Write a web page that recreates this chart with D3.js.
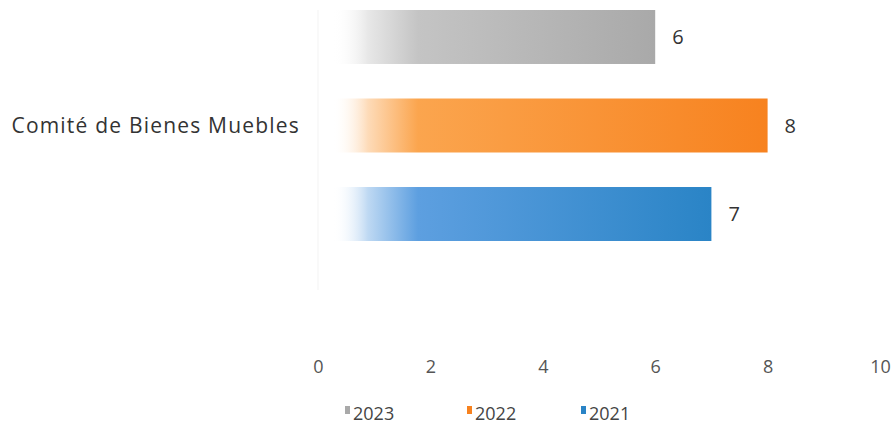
<!DOCTYPE html>
<html><head><meta charset="utf-8">
<script src="https://cdn.jsdelivr.net/npm/d3@7"></script>
<style>body{margin:0;background:#fff;}svg{display:block;font-family:"Open Sans",Lato,sans-serif;}</style>
</head><body>
<svg id="c" width="893" height="425"></svg>
<script>
const categories = ["Comité de Bienes Muebles"];
const series = ["2023", "2022", "2021"];
const values = [6, 8, 7];
const lightColors = ["#c4c4c4", "#fba54e", "#5d9fe0"];
const colors = ["#a9a9a9", "#f7821f", "#2a84c6"];
const ticks = [0, 2, 4, 6, 8, 10];

const svg = d3.select("#c");
const x = d3.scaleLinear().domain([0, 10]).range([318, 880]);
const y0 = d3.scaleBand().domain(categories).range([10, 241]);
const y1 = d3.scaleBand().domain(series).range([0, y0.bandwidth()]).paddingInner(0.39);

const defs = svg.append("defs");
series.forEach((s, i) => {
  const x0 = x(0), xe = x(values[i]);
  const g = defs.append("linearGradient").attr("id", "g" + i)
    .attr("gradientUnits", "userSpaceOnUse")
    .attr("x1", x0).attr("x2", xe).attr("y1", 0).attr("y2", 0);
  const off = v => (v - x0) / (xe - x0);
  g.append("stop").attr("offset", 0).attr("stop-color", "#fff").attr("stop-opacity", 0);
  g.append("stop").attr("offset", off(x0 + 15)).attr("stop-color", "#fff").attr("stop-opacity", 0);
  g.append("stop").attr("offset", off(x0 + 50)).attr("stop-color", lightColors[i]).attr("stop-opacity", 0.4);
  g.append("stop").attr("offset", off(x0 + 100)).attr("stop-color", lightColors[i]).attr("stop-opacity", 1);
  g.append("stop").attr("offset", 1).attr("stop-color", colors[i]).attr("stop-opacity", 1);
});

svg.append("line").attr("x1", x(0)).attr("x2", x(0)).attr("y1", 10).attr("y2", 290)
  .attr("stroke", "#f3f3f3").attr("stroke-width", 1);

const grp = svg.append("g").attr("transform", `translate(0,${y0(categories[0])})`);
grp.selectAll("rect").data(values).join("rect")
  .attr("x", x(0))
  .attr("y", (d, i) => y1(series[i]))
  .attr("width", d => x(d) - x(0))
  .attr("height", y1.bandwidth())
  .attr("fill", (d, i) => `url(#g${i})`);

grp.selectAll("text.v").data(values).join("text").attr("class", "v")
  .attr("x", d => x(d) + 17)
  .attr("y", (d, i) => y1(series[i]) + y1.bandwidth() / 2 + 7)
  .attr("font-size", 20).attr("fill", "#333")
  .text(d => d);

svg.append("text").attr("x", 300).attr("y", y0(categories[0]) + y0.bandwidth() / 2 + 7)
  .attr("text-anchor", "end").attr("font-size", 21).attr("letter-spacing", 1.2).attr("fill", "#333")
  .text(categories[0]);

const ax = d3.axisBottom(x).tickValues(ticks).tickSize(0).tickPadding(0);
const axg = svg.append("g").attr("transform", "translate(0,360)").call(ax);
axg.select(".domain").remove();
axg.selectAll("text").attr("font-size", 18).attr("fill", "#555").attr("font-family", "'Open Sans', sans-serif");

const legX = [345, 467, 581];
const leg = svg.append("g");
series.forEach((s, i) => {
  leg.append("rect").attr("x", legX[i]).attr("y", 406).attr("width", 5).attr("height", 8).attr("fill", colors[i]);
  leg.append("text").attr("x", legX[i] + 8).attr("y", 420).attr("font-size", 18).attr("fill", "#444").text(s);
});
</script>
</body></html>
